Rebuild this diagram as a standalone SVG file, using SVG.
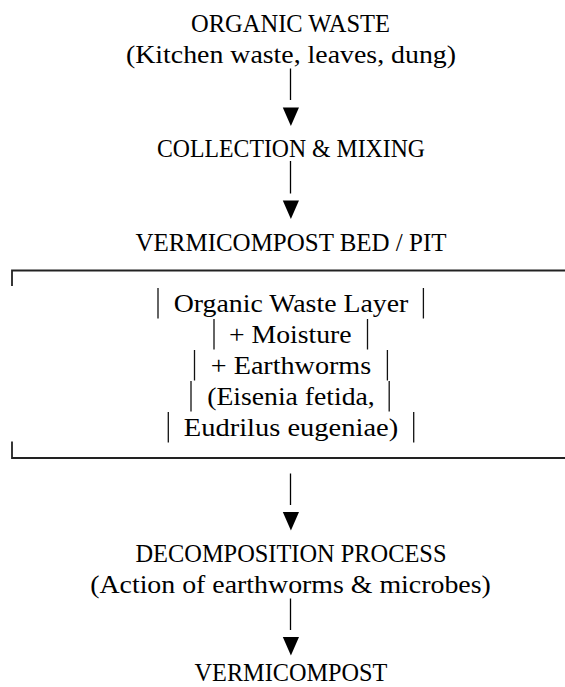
<svg xmlns="http://www.w3.org/2000/svg" width="565" height="687" viewBox="0 0 565 687">
  <style>
    text { font-family: "Liberation Serif", "Times New Roman", serif; font-size: 25px; fill: #000; text-anchor: middle; }
    .stem { stroke: #000; stroke-width: 1.3; fill: none; }
    .head { fill: #000; stroke: none; }
    .bar { stroke: #111; stroke-width: 1.3; fill: none; }
    .frame { stroke: #222; stroke-width: 1.8; fill: none; }
  </style>
  <rect width="565" height="687" fill="#fff"/>

  <g id="organic-waste">
    <text x="290.5" y="32" textLength="199" lengthAdjust="spacingAndGlyphs">ORGANIC WASTE</text>
    <text x="291" y="63" textLength="330" lengthAdjust="spacingAndGlyphs">(Kitchen waste, leaves, dung)</text>
  </g>

  <g id="collection-mixing">
    <text x="291" y="157" textLength="268" lengthAdjust="spacingAndGlyphs">COLLECTION &amp; MIXING</text>
  </g>

  <g id="vermicompost-bed">
    <text x="291" y="251" textLength="311" lengthAdjust="spacingAndGlyphs">VERMICOMPOST BED / PIT</text>
    <path class="frame" d="M12,286 V270.5 H565"/>
    <path class="frame" d="M12,441.5 V458 H565"/>
    <line class="bar" x1="158" y1="288" x2="158" y2="318.5"/>
    <text x="291" y="312" textLength="234.6" lengthAdjust="spacingAndGlyphs">Organic Waste Layer</text>
    <line class="bar" x1="423.4" y1="288" x2="423.4" y2="318.5"/>
    <line class="bar" x1="214" y1="319" x2="214" y2="349.5"/>
    <text x="290.3" y="343" textLength="122.6" lengthAdjust="spacingAndGlyphs">+ Moisture</text>
    <line class="bar" x1="367.5" y1="319" x2="367.5" y2="349.5"/>
    <line class="bar" x1="194.5" y1="350" x2="194.5" y2="380.5"/>
    <text x="291" y="374" textLength="160.4" lengthAdjust="spacingAndGlyphs">+ Earthworms</text>
    <line class="bar" x1="387.4" y1="350" x2="387.4" y2="380.5"/>
    <line class="bar" x1="191" y1="381" x2="191" y2="411.5"/>
    <text x="291" y="405" textLength="167.6" lengthAdjust="spacingAndGlyphs">(Eisenia fetida,</text>
    <line class="bar" x1="389.2" y1="381" x2="389.2" y2="411.5"/>
    <line class="bar" x1="168.3" y1="412" x2="168.3" y2="442.5"/>
    <text x="291" y="436" textLength="214.4" lengthAdjust="spacingAndGlyphs">Eudrilus eugeniae)</text>
    <line class="bar" x1="413.7" y1="412" x2="413.7" y2="442.5"/>
  </g>

  <g id="decomposition">
    <text x="291" y="562" textLength="311" lengthAdjust="spacingAndGlyphs">DECOMPOSITION PROCESS</text>
    <text x="290.5" y="592.5" textLength="400.7" lengthAdjust="spacingAndGlyphs">(Action of earthworms &amp; microbes)</text>
  </g>

  <g id="vermicompost">
    <text x="291" y="681" textLength="192.8" lengthAdjust="spacingAndGlyphs">VERMICOMPOST</text>
  </g>

  <g id="connectors">
    <line class="stem" x1="290.5" y1="68.5" x2="290.5" y2="100"/>
    <polygon class="head" points="282.8,107.5 299,107.5 290.9,126"/>
    <line class="stem" x1="290.5" y1="161" x2="290.5" y2="193.5"/>
    <polygon class="head" points="282.8,200.5 299,200.5 290.9,219"/>
    <line class="stem" x1="290.5" y1="473.5" x2="290.5" y2="505"/>
    <polygon class="head" points="282.8,512 299,512 290.9,530.5"/>
    <line class="stem" x1="290.5" y1="598.5" x2="290.5" y2="630"/>
    <polygon class="head" points="282.8,637 299,637 290.9,655.5"/>
  </g>
</svg>
